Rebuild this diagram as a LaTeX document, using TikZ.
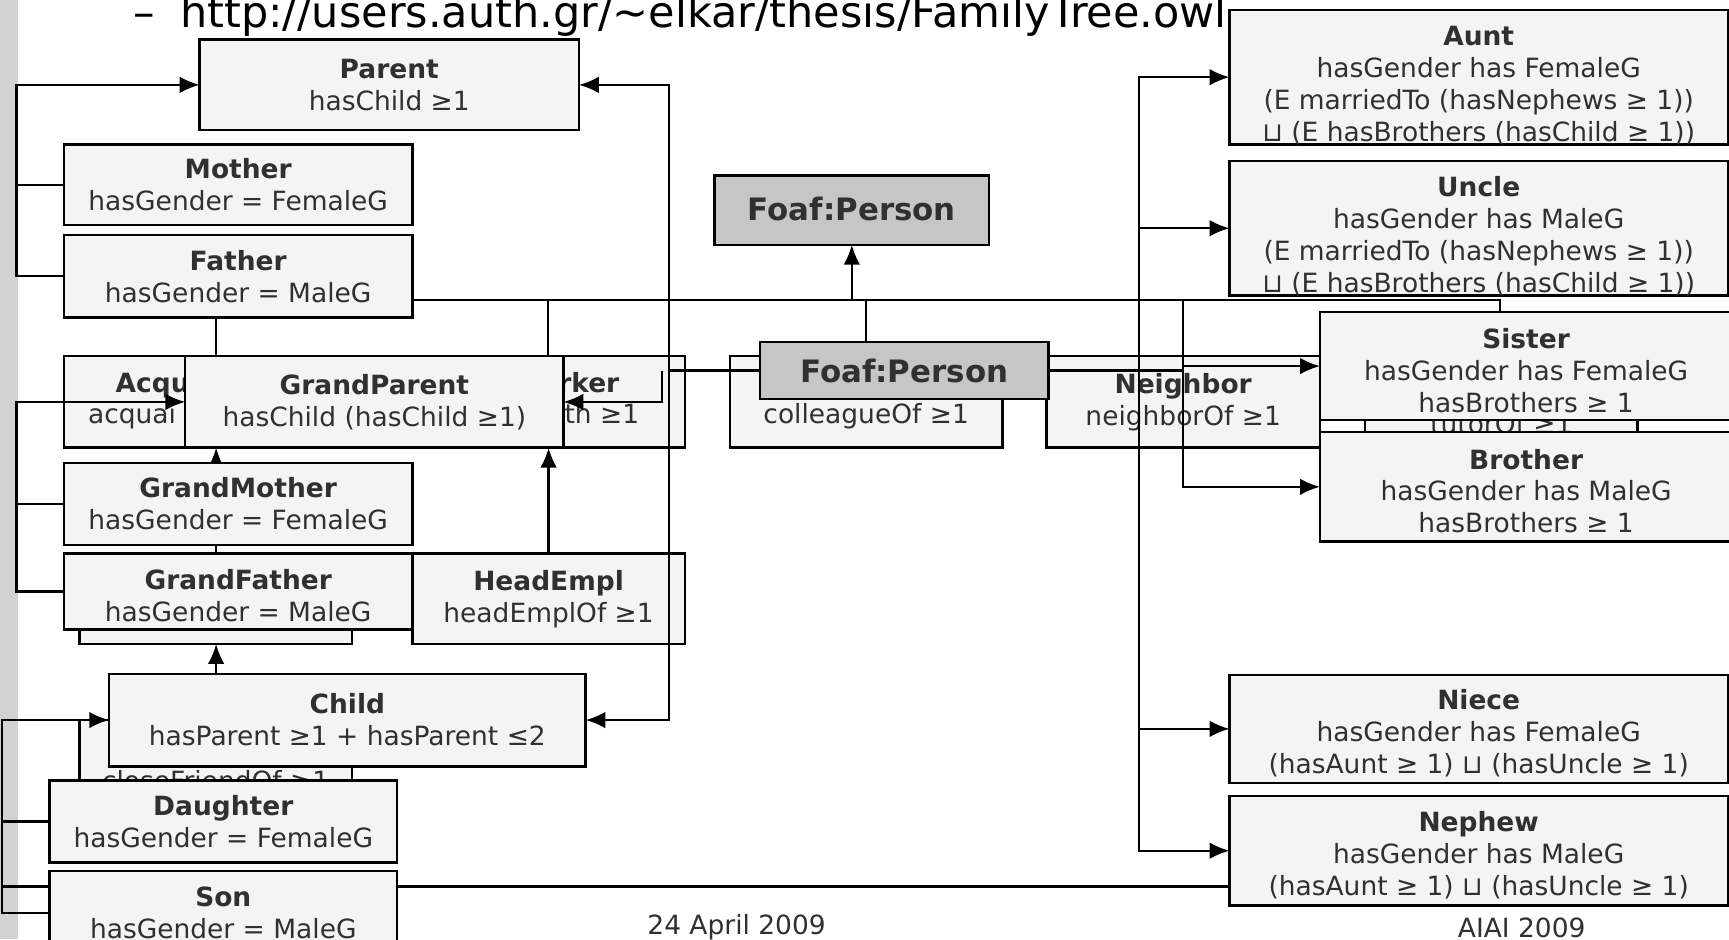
\documentclass[tikz,border=0pt]{standalone}
\usepackage{fontspec}
\setmainfont{DejaVu Sans}
\usetikzlibrary{arrows.meta}
\definecolor{boxfill}{HTML}{F4F4F4}
\definecolor{foaffill}{HTML}{C6C6C6}
\definecolor{txt}{HTML}{303030}
\definecolor{sidebar}{HTML}{D2D2D2}
\pgfdeclarelayer{back}
\pgfdeclarelayer{mid}
\pgfsetlayers{back,mid,main}

\begin{document}
\begin{tikzpicture}[x=0.5pt,y=-0.5pt,
    cls/.style 2 args={draw,line width=1.1pt,fill=boxfill,text=txt,align=center,
        inner sep=1.5pt,outer sep=0pt,minimum width=#1,minimum height=#2,
        font=\fontsize{12}{14.5}\selectfont},
    foafcls/.style 2 args={cls={#1}{#2},fill=foaffill,font=\fontsize{14}{16}\selectfont\bfseries},
    frag/.style={text=txt,inner sep=0pt,font=\fontsize{12}{14.5}\selectfont},
    conn/.style={line width=1pt},
    arr/.style={conn,-{Latex[length=9pt,width=7.5pt]}}]
    \useasboundingbox (0,0) rectangle (1568,852);

    \begin{pgfonlayer}{back}
        \fill[sidebar] (0,0) rectangle (16,852);
        \node[anchor=base west,inner sep=0pt,font=\fontsize{19.5}{22}\selectfont] (dash) at (121,25) {–};
        \node[anchor=base west,inner sep=0pt,font=\fontsize{19.5}{22}\selectfont] (url) at (163,25)
            {http://users.auth.gr/\textasciitilde elkar/thesis/FamilyTree.owl};
        % boxes lying under the others
        \node[cls={281.5pt}{41.5pt}] (acqcow) at (339.5,364.5) {};
        \node[cls={123.5pt}{41.5pt}] (colleague) at (785.5,364.5) {};
        \node[cls={124pt}{41.5pt}] (neighbor) at (1073,364.5) {{\bfseries Neighbor}\\neighborOf ≥1};
        \node[cls={123.5pt}{41pt}] (headempl) at (497.5,543) {{\bfseries HeadEmpl}\\headEmplOf ≥1};
        \node[cls={123.5pt}{30pt}] (tutor) at (1361.5,390) {};
        \node[cls={123.5pt}{43.5pt}] (closefr) at (195.5,696.5) {};
        \node[cls={123.5pt}{22pt}] (gfunder) at (195.5,562) {};
        \node[frag,anchor=base west] (acqT) at (104.5,356) {\bfseries Acqu};
        \node[frag,anchor=base west] (acqL) at (79.5,384.5) {acquai};
        \node[frag,anchor=base east] (cowT) at (562,356) {\bfseries rker};
        \node[frag,anchor=base east] (cowL) at (580,384.5) {th ≥1};
        \node[frag,anchor=base] (colL) at (785.5,384.5) {colleagueOf ≥1};
        \node[frag,anchor=base] (tutL) at (1361.5,393) {tutorOf ≥1};
        \node[frag,anchor=base] (cfL) at (195.5,717) {closeFriendOf ≥1};
    \end{pgfonlayer}

    % classes
    \node[cls={172pt}{41pt}] (parent) at (353,77) {{\bfseries Parent}\\hasChild ≥1};
    \node[cls={158pt}{36.5pt}] (mother) at (216,167.5) {{\bfseries Mother}\\hasGender = FemaleG};
    \node[cls={158pt}{37.5pt}] (father) at (216,250.5) {{\bfseries Father}\\hasGender = MaleG};
    \node[cls={171.5pt}{41.5pt}] (grandparent) at (339.5,364.5) {{\bfseries GrandParent}\\hasChild (hasChild ≥1)};
    \node[cls={158pt}{37pt}] (grandmother) at (216,457) {{\bfseries GrandMother}\\hasGender = FemaleG};
    \node[cls={158pt}{34.5pt}] (grandfather) at (216,536.5) {\rule{0pt}{13pt}{\bfseries GrandFather}\\hasGender = MaleG};
    \node[cls={216pt}{42pt}] (child) at (315,653) {{\bfseries Child}\\hasParent ≥1 + hasParent ≤2};
    \node[cls={157.5pt}{37pt}] (daughter) at (202.5,745) {{\bfseries Daughter}\\hasGender = FemaleG};
    \node[cls={157.5pt}{38pt}] (son) at (202.5,828) {{\bfseries Son}\\hasGender = MaleG};
    \node[foafcls={124.5pt}{31.5pt}] (foafA) at (772.5,190.5) {\raisebox{1.5pt}{Foaf:Person}};
    \node[foafcls={131pt}{26pt}] (foafB) at (820,336) {Foaf:Person};
    \node[cls={226pt}{61pt},inner ysep=0pt] (aunt) at (1341,70) {\rule{0pt}{16pt}{\bfseries Aunt}\\hasGender has FemaleG\\(E marriedTo (hasNephews ≥ 1))\\⊔ (E hasBrothers (hasChild ≥ 1))};
    \node[cls={226pt}{61pt},inner ysep=0pt] (uncle) at (1341,207) {\rule{0pt}{16pt}{\bfseries Uncle}\\hasGender has MaleG\\(E marriedTo (hasNephews ≥ 1))\\⊔ (E hasBrothers (hasChild ≥ 1))};
    \node[cls={187pt}{49pt}] (sister) at (1384,332) {\rule{0pt}{13pt}{\bfseries Sister}\\hasGender has FemaleG\\hasBrothers ≥ 1};
    \node[cls={187pt}{49.5pt}] (brother) at (1384,441.5) {\rule{0pt}{13pt}{\bfseries Brother}\\hasGender has MaleG\\hasBrothers ≥ 1};
    \node[cls={226pt}{49pt}] (niece) at (1341,661) {\rule{0pt}{13pt}{\bfseries Niece}\\hasGender has FemaleG\\(hasAunt ≥ 1) ⊔ (hasUncle ≥ 1)};
    \node[cls={226pt}{49.5pt}] (nephew) at (1341,771.5) {\rule{0pt}{13pt}{\bfseries Nephew}\\hasGender has MaleG\\(hasAunt ≥ 1) ⊔ (hasUncle ≥ 1)};

    \node[frag] (date) at (668,841) {24 April 2009};
    \node[frag] (conf) at (1380,841) {AIAI 2009};

    \begin{pgfonlayer}{mid}
        \coordinate (bus) at (0,272);
        \coordinate (lp) at (15,77);
        \coordinate (lg) at (15,364.5);
        \coordinate (chain) at (196,0);
        \coordinate (he) at (497,0);
        \coordinate (fb) at (785,0);
        \coordinate (rt) at (1033,272);
        \coordinate (sb) at (1073,272);
        \coordinate (busR) at (1360,272);
        \coordinate (rj) at (607,336);
        \coordinate (gj) at (600,336);
        \coordinate (ll) at (2,653);
        \coordinate (sl) at (2,804);
        \coordinate (sr) at (1568,804);
        % left side
        \draw[arr] (father.west) -| (lp) -- (parent.west);
        \draw[conn] (mother.west) -- (mother.west -| lp);
        \draw[arr] (grandfather.west) -| (lg) -- (grandparent.west);
        \draw[conn] (grandmother.west) -- (grandmother.west -| lg);
        \draw[arr] (son.west) -| (ll) -- (child.west);
        \draw[conn] (daughter.west) -- (daughter.west -| ll);
        \draw[conn] (sl) -- (sr);
        % vertical chains
        \draw[conn] (father.south -| chain) -- (grandparent.north -| chain);
        \draw[arr] (grandmother.north -| chain) -- (grandparent.south -| chain);
        \draw[conn] (grandmother.south -| chain) -- (grandfather.north -| chain);
        \draw[arr] (child.north -| chain) -- (gfunder.south -| chain);
        \draw[conn] (he |- bus) -- (grandparent.north -| he);
        \draw[arr] (headempl.north) -- (grandparent.south -| headempl.north);
        % bus
        \draw[conn] (father.east |- bus) -- (busR) -- (busR |- sister.north);
        \draw[arr] (foafA.south |- bus) -- (foafA.south);
        \draw[conn] (fb |- bus) -- (fb |- foafB.north);
        \draw[conn] (foafB.west) -- (rj);
        \draw[arr] (gj) |- (grandparent.east);
        \draw[arr] (rj) |- (parent.east);
        \draw[arr] (rj) |- (child.east);
        \draw[conn] (foafB.east) -- (foafB.east -| sb);
        \draw[arr] (sb) |- (sister.west);
        \draw[arr] (sb) |- (brother.west);
        \draw[arr] (rt) |- (aunt.west);
        \draw[arr] (rt) |- (uncle.west);
        \draw[arr] (rt) |- (niece.west);
        \draw[arr] (rt) |- (nephew.west);
    \end{pgfonlayer}
\end{tikzpicture}
\end{document}
